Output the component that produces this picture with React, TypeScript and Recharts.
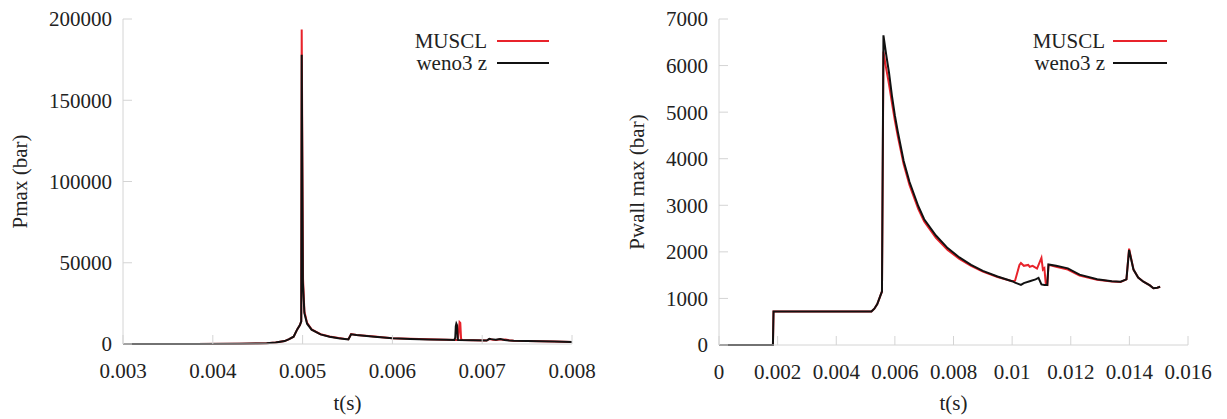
import { LineChart, Line, XAxis, YAxis } from 'recharts'

const FONT = '"Liberation Serif", "Times New Roman", serif'
const RED = '#e8232b'
const BLACK = '#111111'
const FRAME = '#d4d4d4'

// left panel: Pmax vs t
const leftXTicks = [0.003, 0.004, 0.005, 0.006, 0.007, 0.008]
const leftYTicks = [0, 50000, 100000, 150000, 200000]

const leftMusclT = [
  0.003, 0.0038, 0.0043, 0.0045, 0.0046, 0.0047, 0.0048, 0.00485, 0.0049, 0.00494, 0.00497,
  0.004985, 0.00499, 0.005005, 0.00502, 0.00505, 0.0051, 0.0052, 0.0053, 0.0054, 0.00549,
  0.00551, 0.00554, 0.0056, 0.0058, 0.006, 0.0062, 0.0064, 0.0066, 0.00673, 0.00674, 0.006748,
  0.006756, 0.006765, 0.00678, 0.0069, 0.00705, 0.00708, 0.00712, 0.00716, 0.0072, 0.00723,
  0.00726, 0.0073, 0.00735, 0.0075, 0.0078, 0.008,
]
const leftMusclP = [
  0, 0, 100, 300, 500, 900, 1800, 3000, 4500, 9000, 11600,
  14000, 193500, 40000, 20000, 13000, 9000, 6000, 4600, 3700, 3000,
  2900, 6100, 5600, 4600, 3600, 3200, 2900, 2600, 2500, 8000, 13500,
  13000, 3000, 2400, 2300, 2100, 3100, 2600, 2400, 2900, 2600,
  2800, 2300, 2000, 1800, 1500, 1200,
]
const leftWenoT = [
  0.003, 0.0038, 0.0043, 0.0045, 0.0046, 0.0047, 0.0048, 0.00485, 0.0049, 0.00494, 0.00497,
  0.004985, 0.00499, 0.005003, 0.00502, 0.00505, 0.0051, 0.0052, 0.0053, 0.0054, 0.00549,
  0.00551, 0.00554, 0.0056, 0.0058, 0.006, 0.0062, 0.0064, 0.0066, 0.00669, 0.0067, 0.006706,
  0.006712, 0.00672, 0.006728, 0.00674, 0.0069, 0.00705, 0.00708, 0.0071, 0.00715, 0.0072,
  0.00725, 0.0073, 0.00735, 0.0075, 0.0078, 0.008,
]
const leftWenoP = [
  0, 0, 100, 300, 500, 900, 1800, 3000, 4500, 9000, 11600,
  14000, 178000, 38000, 19000, 12500, 8800, 5900, 4500, 3600, 2950,
  2850, 6000, 5500, 4500, 3500, 3100, 2800, 2550, 2500, 4000, 11000,
  12500, 11500, 2600, 2500, 2300, 2100, 3200, 3000, 2600, 3000,
  2500, 2200, 2000, 1800, 1500, 1200,
]

// right panel: Pwall max vs t
const rightXTicks = [0, 0.002, 0.004, 0.006, 0.008, 0.01, 0.012, 0.014, 0.016]
const rightYTicks = [0, 1000, 2000, 3000, 4000, 5000, 6000, 7000]

const rightMusclT = [
  0, 0.00184, 0.00186, 0.0052, 0.0053, 0.0054, 0.0055, 0.00556, 0.00561, 0.0057, 0.0058,
  0.0059, 0.006, 0.0061, 0.0063, 0.0065, 0.0068, 0.007, 0.0074, 0.0078, 0.0082, 0.0086,
  0.009, 0.0095, 0.01, 0.0101, 0.01025, 0.0103, 0.0104, 0.01055, 0.0106, 0.0107, 0.01085,
  0.011, 0.01105, 0.0111, 0.01115, 0.0112, 0.01124, 0.0115, 0.0119, 0.0123, 0.0129, 0.0134,
  0.0137, 0.0139, 0.01399, 0.01414, 0.0143, 0.01448, 0.0147, 0.01482, 0.01495, 0.01505,
]
const rightMusclP = [
  0, 0, 720, 720, 780, 880, 1050, 1150, 6300, 5950, 5600,
  5200, 4820, 4480, 3880, 3430, 2920, 2650, 2300, 2040, 1850, 1700,
  1575, 1460, 1370, 1380, 1720, 1760, 1700, 1720, 1680, 1700, 1640,
  1870, 1620, 1650, 1300, 1290, 1720, 1680, 1620, 1490, 1400, 1365,
  1355, 1410, 2070, 1620, 1450, 1360, 1280, 1220, 1230, 1250,
]
const rightWenoT = [
  0, 0.00184, 0.00186, 0.0052, 0.0053, 0.0054, 0.0055, 0.00556, 0.00561, 0.0057, 0.0058,
  0.0059, 0.006, 0.0061, 0.0063, 0.0065, 0.0068, 0.007, 0.0074, 0.0078, 0.0082, 0.0086,
  0.009, 0.0095, 0.01, 0.0101, 0.0103, 0.0104, 0.0106, 0.0108, 0.0109, 0.011, 0.0111,
  0.0112, 0.01124, 0.0115, 0.0119, 0.0123, 0.0129, 0.0134, 0.0137, 0.0139, 0.01399, 0.01414,
  0.0143, 0.01448, 0.0147, 0.01482, 0.01495, 0.01505,
]
const rightWenoP = [
  0, 0, 720, 720, 780, 880, 1050, 1150, 6650, 6250, 5850,
  5350, 4930, 4580, 3950, 3500, 2980, 2700, 2350, 2080, 1880, 1720,
  1590, 1470, 1370, 1340, 1290, 1330, 1370, 1410, 1440, 1300, 1290,
  1290, 1730, 1700, 1646, 1510, 1410, 1370, 1360, 1410, 2040, 1620,
  1450, 1360, 1280, 1220, 1230, 1250,
]

const zip = (t: number[], p: number[]) => t.map((x, i) => ({ t: x, p: p[i] }))

const tickStyle = { fill: '#222', fontSize: 21, fontFamily: FONT }

type Series = { name: string; color: string; data: { t: number; p: number }[] }

function Panel(props: {
  width: number
  yAxisWidth: number
  right: number
  xAxisHeight: number
  xTicks: number[]
  yTicks: number[]
  yLabel: string
  yLabelOffset: number
  series: Series[]
}) {
  const { width, yAxisWidth, right, xAxisHeight, xTicks, yTicks, yLabel, yLabelOffset, series } = props
  const xDomain = [xTicks[0], xTicks[xTicks.length - 1]]
  const yDomain = [yTicks[0], yTicks[yTicks.length - 1]]
  return (
    <LineChart width={width} height={419} margin={{ top: 19, right, bottom: 0, left: 0 }}>
      <XAxis
        dataKey="t"
        type="number"
        domain={xDomain}
        ticks={xTicks}
        allowDataOverflow
        height={xAxisHeight}
        tick={tickStyle}
        tickFormatter={(v: number) => String(v)}
        tickSize={-9}
        tickMargin={28}
        axisLine={{ stroke: FRAME }}
        tickLine={{ stroke: FRAME }}
        label={{ value: 't(s)', position: 'insideBottom', offset: 9, fill: '#222', fontSize: 21, fontFamily: FONT }}
      />
      {/* mirrored frame: top and right axes only carry the border and inward ticks */}
      <XAxis
        xAxisId="top"
        orientation="top"
        type="number"
        domain={xDomain}
        ticks={xTicks}
        height={0}
        tick={false}
        tickSize={-9}
        axisLine={{ stroke: FRAME }}
        tickLine={{ stroke: FRAME }}
      />
      <YAxis
        type="number"
        domain={yDomain}
        ticks={yTicks}
        width={yAxisWidth}
        tick={tickStyle}
        tickSize={-9}
        tickMargin={20}
        axisLine={{ stroke: FRAME }}
        tickLine={{ stroke: FRAME }}
        label={{
          value: yLabel,
          angle: -90,
          position: 'insideLeft',
          offset: yLabelOffset,
          fill: '#222',
          fontSize: 21,
          fontFamily: FONT,
          style: { textAnchor: 'middle' },
        }}
      />
      <YAxis
        yAxisId="r"
        orientation="right"
        type="number"
        domain={yDomain}
        ticks={yTicks}
        width={0}
        tick={false}
        tickSize={-9}
        axisLine={{ stroke: FRAME }}
        tickLine={{ stroke: FRAME }}
      />
      {series.map((s) => (
        <Line
          key={s.name}
          data={s.data}
          dataKey="p"
          type="linear"
          stroke={s.color}
          strokeWidth={2}
          dot={false}
          isAnimationActive={false}
        />
      ))}
    </LineChart>
  )
}

function LegendBox({ right, gap, lineWidth, series }: { right: number; gap: number; lineWidth: number; series: Series[] }) {
  return (
    <div style={{ position: 'absolute', left: 0, top: 30, width: right, fontSize: 21, color: '#222' }}>
      {series.map((s) => (
        <div key={s.name} style={{ display: 'flex', justifyContent: 'flex-end', alignItems: 'center', height: 22, lineHeight: '22px' }}>
          <span>{s.name}</span>
          <span style={{ display: 'inline-block', width: lineWidth, height: 2, background: s.color, marginLeft: gap }} />
        </div>
      ))}
    </div>
  )
}

export default function App() {
  const leftSeries: Series[] = [
    { name: 'MUSCL', color: RED, data: zip(leftMusclT, leftMusclP) },
    { name: 'weno3 z', color: BLACK, data: zip(leftWenoT, leftWenoP) },
  ]
  const rightSeries: Series[] = [
    { name: 'MUSCL', color: RED, data: zip(rightMusclT, rightMusclP) },
    { name: 'weno3 z', color: BLACK, data: zip(rightWenoT, rightWenoP) },
  ]
  return (
    <div
      style={{
        position: 'absolute',
        left: 0,
        top: 0,
        width: 1227,
        height: 419,
        background: '#fff',
        fontFamily: FONT,
      }}
    >
      <div style={{ position: 'absolute', left: 0, top: 0 }}>
        <Panel
          width={600}
          yAxisWidth={123}
          right={28}
          xAxisHeight={75}
          xTicks={leftXTicks}
          yTicks={leftYTicks}
          yLabel="Pmax (bar)"
          yLabelOffset={20}
          series={leftSeries}
        />
        <LegendBox right={549} gap={10} lineWidth={52} series={leftSeries} />
      </div>
      <div style={{ position: 'absolute', left: 600, top: 0 }}>
        <Panel
          width={627}
          yAxisWidth={119}
          right={39}
          xAxisHeight={74}
          xTicks={rightXTicks}
          yTicks={rightYTicks}
          yLabel="Pwall max (bar)"
          yLabelOffset={37}
          series={rightSeries}
        />
        <LegendBox right={567} gap={8} lineWidth={54} series={rightSeries} />
      </div>
    </div>
  )
}
